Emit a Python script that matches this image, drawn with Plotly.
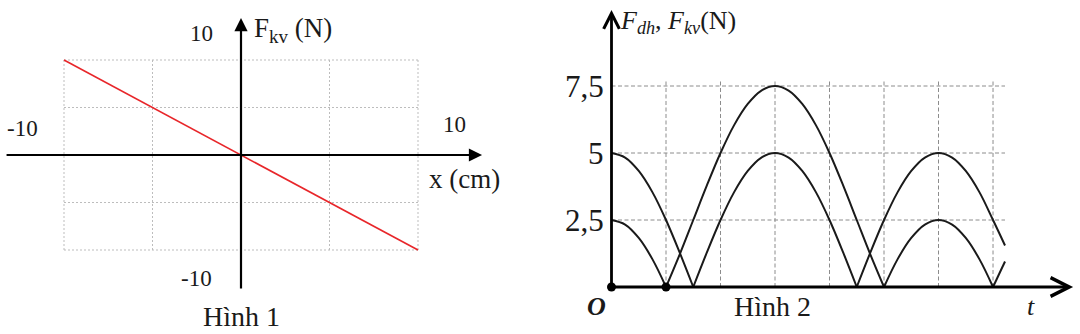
import plotly.graph_objects as go

# ---------------- data ----------------
# Hinh 1: restoring force vs displacement
x_cm = [-10, 10]
F_kv1 = [10, -10]
grid1_ticks = [-10, -5, 0, 5, 10]
h1_tick_labels = ["-10", "10"]

# Hinh 2: elastic force and restoring force vs time (grid units)
t_vals = [0, 0.25, 0.5, 0.75, 1, 1.25, 1.5, 1.75, 2, 2.25, 2.5, 2.75, 3, 3.25, 3.5,
          3.75, 4, 4.25, 4.5, 4.75, 5, 5.25, 5.5, 5.75, 6, 6.25, 6.5, 6.75, 7, 7.22]
F_dh = [2.5, 2.33, 1.83, 1.04, 0, 1.21, 2.5, 3.79, 5, 6.04, 6.83, 7.33, 7.5, 7.33, 6.83,
        6.04, 5, 3.79, 2.5, 1.21, 0, 1.04, 1.83, 2.33, 2.5, 2.33, 1.83, 1.04, 0, 0.95]
F_kv = [5, 4.83, 4.33, 3.54, 2.5, 1.29, 0, 1.29, 2.5, 3.54, 4.33, 4.83, 5, 4.83, 4.33,
        3.54, 2.5, 1.29, 0, 1.29, 2.5, 3.54, 4.33, 4.83, 5, 4.83, 4.33, 3.54, 2.5, 1.55]
y2_ticks = [2.5, 5, 7.5]
y2_tick_labels = ["2,5", "5", "7,5"]
t_grid = [1, 2, 3, 4, 5, 6, 7]
dot_t = [0, 1]
dot_F = [0, 0]

SERIF = "Liberation Serif"
INK = "#1a1a1a"

fig = go.Figure()

# ---------- panel 1 ----------
fig.add_trace(go.Scatter(x=x_cm, y=F_kv1, mode="lines",
                         line=dict(color="#e8262a", width=1.6),
                         xaxis="x", yaxis="y", showlegend=False, hoverinfo="skip"))

shapes = []
g1min, g1max = min(grid1_ticks), max(grid1_ticks)
for v in grid1_ticks:
    shapes.append(dict(type="line", xref="x", yref="y", x0=v, x1=v, y0=g1min, y1=g1max,
                       line=dict(color="#bdbdbd", width=1, dash="2px,2px"), layer="below"))
    shapes.append(dict(type="line", xref="x", yref="y", x0=g1min, x1=g1max, y0=v, y1=v,
                       line=dict(color="#bdbdbd", width=1, dash="2px,2px"), layer="below"))

# ---------- panel 2 ----------
def arches(t, f):
    segs, cur_t, cur_f = [], [], []
    for i, (a, b) in enumerate(zip(t, f)):
        cur_t.append(a)
        cur_f.append(b)
        if b == 0 and i > 0:
            segs.append((cur_t, cur_f))
            cur_t, cur_f = [a], [b]
    if len(cur_t) > 1:
        segs.append((cur_t, cur_f))
    return segs

for series in (F_dh, F_kv):
    for st, sf in arches(t_vals, series):
        fig.add_trace(go.Scatter(x=st, y=sf, mode="lines",
                                 line=dict(color=INK, width=2, shape="spline"),
                                 xaxis="x2", yaxis="y2", showlegend=False, hoverinfo="skip"))

t_end = max(t_vals)
for v in y2_ticks:
    shapes.append(dict(type="line", xref="x2", yref="y2", x0=0, x1=t_end, y0=v, y1=v,
                       line=dict(color="#8c8c8c", width=1, dash="4px,2.5px"), layer="below"))
for v in t_grid:
    shapes.append(dict(type="line", xref="x2", yref="y2", x0=v, x1=v, y0=0, y1=max(y2_ticks) + 0.2,
                       line=dict(color="#8c8c8c", width=1, dash="4px,2.5px"), layer="below"))

annotations = []

def arrow(xref, yref, x0, y0, x1, y1, head, width, size):
    annotations.append(dict(xref=xref, yref=yref, axref=xref, ayref=yref,
                            x=x1, y=y1, ax=x0, ay=y0, text="", showarrow=True,
                            arrowhead=head, arrowwidth=width, arrowsize=size,
                            arrowcolor="#000", standoff=0, startstandoff=0))

# panel 1 axes
arrow("x", "y", -13.33, 0, 13.62, 0, 2, 2.2, 1.2)
arrow("x", "y", 0, -14.2, 0, 14.42, 2, 2.2, 1.2)
# panel 2 axes
arrow("x2", "y2", 0, 0, 8.47, 0, 5, 2.8, 1.3)
arrow("x2", "y2", 0, 0, 0, 10.34, 5, 2.8, 1.1)

fig.add_trace(go.Scatter(x=dot_t, y=dot_F, mode="markers",
                         marker=dict(color="#000", size=9),
                         xaxis="x2", yaxis="y2", showlegend=False, hoverinfo="skip"))

def label(xref, yref, x, y, text, size, xanchor="center", yanchor="middle"):
    annotations.append(dict(xref=xref, yref=yref, x=x, y=y, text=text, showarrow=False,
                            xanchor=xanchor, yanchor=yanchor,
                            font=dict(family=SERIF, size=size, color=INK)))

# panel 1 labels
label("x", "y", -2.26, 12.84, h1_tick_labels[1], 23)
label("x", "y", 0.62, 13.2, "F<sub>kv</sub> (N)", 27, xanchor="left")
label("x", "y", -12.34, 2.74, h1_tick_labels[0], 23)
label("x", "y", 12.09, 3.16, h1_tick_labels[1], 23)
label("x", "y", 12.6, -2.5, "x (cm)", 27)
label("x", "y", -2.49, -13.05, h1_tick_labels[0], 23)
label("x", "y", 0.03, -17.0, "Hình 1", 28)

# panel 2 labels
for v, s in zip(y2_ticks, y2_tick_labels):
    label("x2", "y2", -0.1, v, s, 31, xanchor="right")
label("x2", "y2", 0.12, 9.9, "<i>F<sub>dh</sub></i>, <i>F<sub>kv</sub></i>(N)", 26, xanchor="left")
label("x2", "y2", -0.27, -0.72, "<i><b>O</b></i>", 26)
label("x2", "y2", 7.7, -0.72, "<i>t</i>", 26)
label("x2", "y2", 2.95, -0.72, "Hình 2", 28)

fig.update_layout(
    width=1080, height=334,
    margin=dict(l=0, r=0, t=0, b=0),
    paper_bgcolor="white", plot_bgcolor="white",
    shapes=shapes, annotations=annotations,
    xaxis=dict(domain=[0, 520 / 1080], range=[-13.616, 15.763], visible=False, fixedrange=True),
    yaxis=dict(domain=[0, 1], range=[-18.842, 16.316], visible=False, fixedrange=True),
    xaxis2=dict(domain=[560 / 1080, 1], range=[-0.945, 8.596], visible=False, fixedrange=True),
    yaxis2=dict(domain=[0, 1], range=[-1.754, 10.709], visible=False, fixedrange=True, anchor="x2"),
)
fig.write_html("out.html")
